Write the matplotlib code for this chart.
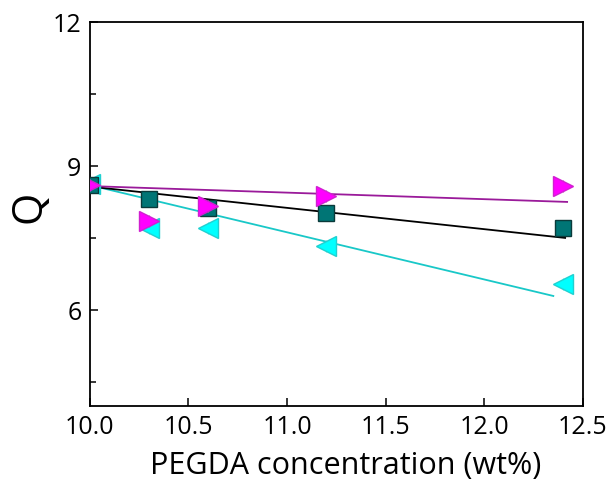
import matplotlib
matplotlib.use('Agg')
import matplotlib.pyplot as plt
from matplotlib.ticker import MultipleLocator
import numpy as np

plt.rcParams['font.family'] = ['Open Sans', 'DejaVu Sans']

# PEGDA concentration (wt%)
conc = [10.0, 10.3, 10.6, 11.2, 12.4]

# Q values per series
q_square = [8.60, 8.31, 8.12, 8.02, 7.71]
q_right = [8.60, 7.85, 8.17, 8.37, 8.58]
q_left = [8.62, 7.71, 7.71, 7.33, 6.54]
err = [0.12, 0.12, 0.12, 0.12, 0.12]

# fitted lines (end points)
fit_black_x = [10.0, 12.41]
fit_black_y = [8.57, 7.50]
fit_purple_x = [10.0, 12.42]
fit_purple_y = [8.58, 8.25]
fit_cyan_x = [10.0, 12.35]
fit_cyan_y = [8.60, 6.29]

fig = plt.figure(figsize=(6.11, 4.89), dpi=100)
ax = fig.add_axes([0.147, 0.168, 0.807, 0.785])

ax.plot(fit_cyan_x, fit_cyan_y, color='#19c8c8', lw=1.3, zorder=2)
ax.plot(fit_black_x, fit_black_y, color='black', lw=1.3, zorder=2)
ax.plot(fit_purple_x, fit_purple_y, color='#9a1a9a', lw=1.3, zorder=2)

ax.errorbar(conc, q_left, yerr=err, fmt='<', ms=15, mfc='#00ffff', mec='#20d0d0',
            ecolor='#80e0e0', elinewidth=0.8, capsize=0, zorder=3)
ax.errorbar(conc, q_square, yerr=err, fmt='s', ms=11, mfc='#007575', mec='#0a3a3a',
            ecolor='#408080', elinewidth=0.8, capsize=0, zorder=4)
ax.errorbar(conc, q_right, yerr=err, fmt='>', ms=15, mfc='#ff00ff', mec='#d020d0',
            ecolor='#b060b0', elinewidth=0.8, capsize=0, zorder=5)

ax.set_xlim(10.0, 12.5)
ax.set_ylim(4, 12)
ax.xaxis.set_major_locator(MultipleLocator(0.5))
ax.yaxis.set_major_locator(MultipleLocator(3))
ax.yaxis.set_minor_locator(MultipleLocator(1.5))
ax.xaxis.set_major_formatter(plt.FormatStrFormatter('%.1f'))
ax.tick_params(direction='in', which='major', length=6, width=1.1, labelsize=18, pad=6)
ax.tick_params(direction='in', which='minor', length=4, width=1.1)
ax.tick_params(axis='x', which='minor', length=0)
for s in ax.spines.values():
    s.set_linewidth(1.3)

ax.set_xlabel('PEGDA concentration (wt%)', fontsize=22)
ax.set_ylabel('Q', fontsize=30)
ax.xaxis.set_label_coords(0.519, -0.115)
ax.yaxis.set_label_coords(-0.08, 0.52)

fig.savefig('out.png', dpi=100)
